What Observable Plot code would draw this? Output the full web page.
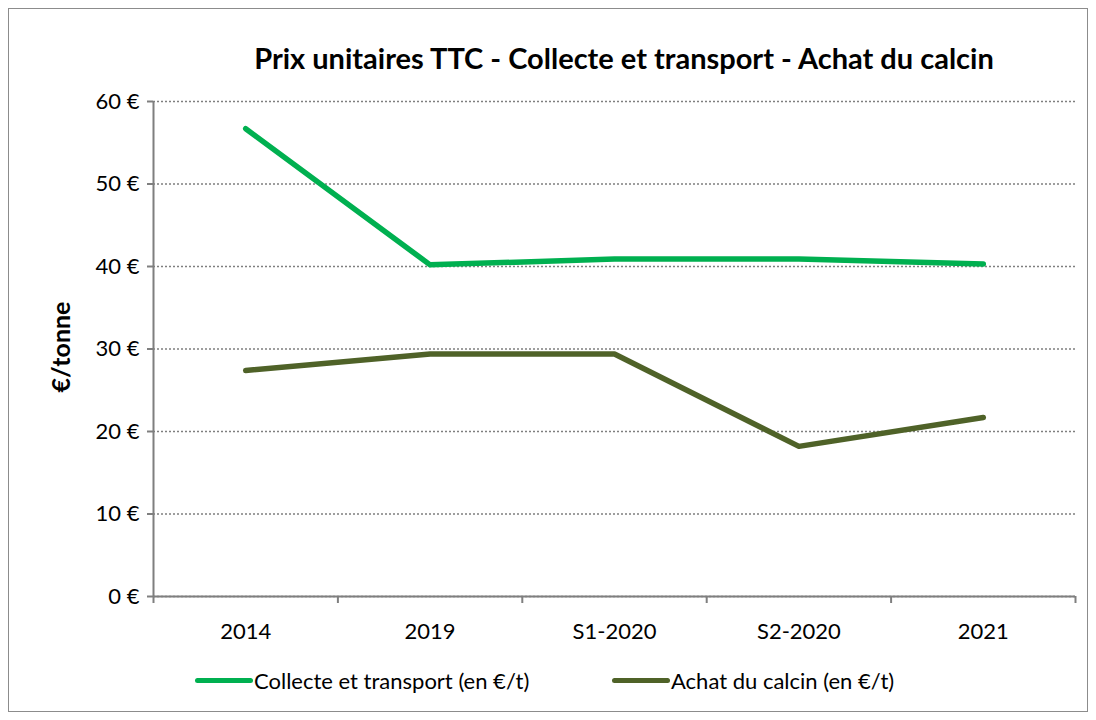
<!DOCTYPE html>
<html>
<head>
<meta charset="utf-8">
<script src="https://cdn.jsdelivr.net/npm/d3@7"></script>
<script src="https://cdn.jsdelivr.net/npm/@observablehq/plot@0.6"></script>
<style>
  html, body { margin: 0; padding: 0; background: #fff; }
  #wrap { position: relative; width: 1096px; height: 720px; font-family: Lato, "Open Sans", sans-serif; color: #000; }
  #frame { position: absolute; left: 8px; top: 8px; width: 1078px; height: 702px; border: 1px solid #8c8c8c; box-sizing: content-box; }
  #title { position: absolute; left: 0; width: 1096px; top: 40px; text-align: center; font-weight: bold; font-size: 29px; padding-left: 152px; box-sizing: border-box; }
  #ylabel { position: absolute; left: 60px; top: 347px; transform: translate(-50%, -50%) rotate(-90deg); font-weight: bold; font-size: 25px; white-space: nowrap; }
  #chart { position: absolute; left: 0; top: 0; }
  #legend { position: absolute; left: 0; top: 667px; width: 1096px; font-size: 22px; }
  .item { position: absolute; display: flex; align-items: center; white-space: nowrap; }
  .swatch { width: 58px; height: 5px; border-radius: 3px; margin-right: 1px; }
</style>
</head>
<body>
<div id="wrap">
  <div id="frame"></div>
  <div id="chart"></div>
  <div id="title">Prix unitaires TTC - Collecte et transport - Achat du calcin</div>
  <div id="ylabel">€/tonne</div>
  <div id="legend"></div>
</div>
<script>
const categories = ["2014", "2019", "S1-2020", "S2-2020", "2021"];
const collecte = [56.7, 40.2, 40.9, 40.9, 40.3];
const achat = [27.4, 29.4, 29.4, 18.2, 21.7];
const yTicks = [0, 10, 20, 30, 40, 50, 60];
const seriesNames = ["Collecte et transport (en €/t)", "Achat du calcin (en €/t)"];
const seriesColors = ["#00B050", "#4F6228"];

const rows = [];
categories.forEach((c, i) => {
  rows.push({series: seriesNames[0], i, value: collecte[i]});
  rows.push({series: seriesNames[1], i, value: achat[i]});
});
const boundaries = d3.range(categories.length + 1).map(k => k - 0.5);

const chart = Plot.plot({
  width: 1096,
  height: 660,
  marginTop: 101,
  marginBottom: 64,
  marginLeft: 153,
  marginRight: 21,
  style: {fontFamily: "Lato, 'Open Sans', sans-serif", fontSize: "22px", color: "#000", background: "transparent", overflow: "visible"},
  x: {domain: [-0.5, categories.length - 0.5]},
  y: {domain: [0, 60]},
  color: {domain: seriesNames, range: seriesColors},
  marks: [
    Plot.gridY(yTicks, {stroke: "#7f7f7f", strokeOpacity: 1, strokeWidth: 1.3, strokeDasharray: "2,2"}),
    Plot.axisY({ticks: yTicks, tickSize: 6, tickPadding: 8, stroke: "#7f7f7f", strokeWidth: 2, tickFormat: d => `${d} €`, label: null, fontSize: 22}),
    Plot.ruleX([-0.5], {stroke: "#7f7f7f", strokeWidth: 2}),
    Plot.axisX({ticks: boundaries, tickSize: 7, stroke: "#7f7f7f", strokeWidth: 2, tickFormat: () => "", label: null}),
    Plot.axisX({ticks: d3.range(categories.length), tickSize: 0, tickPadding: 27, tickFormat: i => categories[i], label: null, fontSize: 22}),
    Plot.ruleY([0], {stroke: "#7f7f7f", strokeWidth: 2}),
    Plot.line(rows, {x: "i", y: "value", z: "series", stroke: "series", strokeWidth: 5.5, strokeLinecap: "round", strokeLinejoin: "round"})
  ]
});
document.getElementById("chart").appendChild(chart);

const legend = document.getElementById("legend");
const legendX = [195, 612];
seriesNames.forEach((name, k) => {
  const item = document.createElement("div");
  item.className = "item";
  item.style.left = legendX[k] + "px";
  const sw = document.createElement("span");
  sw.className = "swatch";
  sw.style.background = seriesColors[k];
  const t = document.createElement("span");
  t.textContent = name;
  item.appendChild(sw);
  item.appendChild(t);
  legend.appendChild(item);
});
</script>
</body>
</html>
